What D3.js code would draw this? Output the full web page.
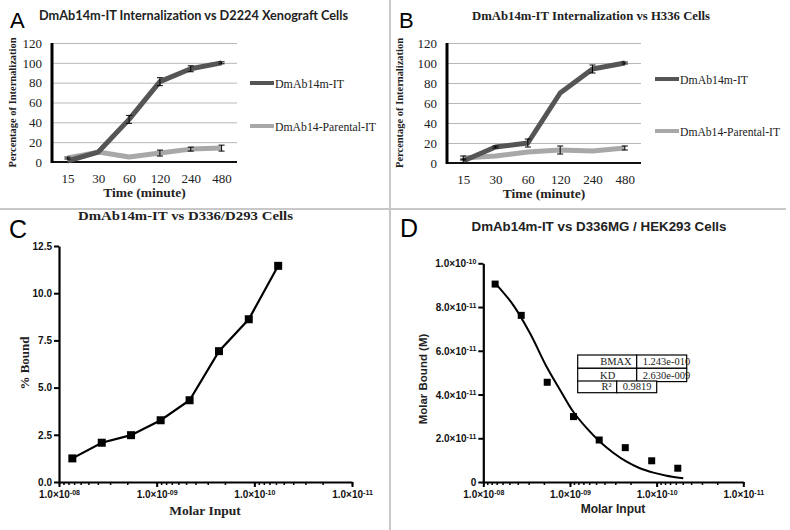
<!DOCTYPE html>
<html><head><meta charset="utf-8">
<script src="https://cdn.jsdelivr.net/npm/d3@7"></script>
<style>body{margin:0;background:#fff}svg{display:block}</style>
</head><body><svg id="c" width="790" height="530"></svg>
<script>
// ---------- DATA ----------
const timeLabels = ["15","30","60","120","240","480"];
const yTicksAB = [0,20,40,60,80,100,120];
// Panel A
const aDmAb14m = [1,10,43,81,94,100];
const aDmAb14mErr = [0,0,4,4,3,1];
const aParental = [4,10,5,9,13,14];
const aParentalErr = [1,0,0,3,2,3];
// Panel B
const bDmAb14m = [2,16,20,70,94,100];
const bDmAb14mErr = [2,1,4,0,4,1];
const bParental = [5,7,11,13,12,15];
const bParentalErr = [2,0,0,4,0,2];
const seriesNames = ["DmAb14m-IT","DmAb14-Parental-IT"];
// Panels C / D
const molarInput = [7.3e-9,3.65e-9,1.83e-9,9.1e-10,4.6e-10,2.3e-10,1.14e-10,5.7e-11];
const cPercentBound = [1.25,2.08,2.48,3.27,4.33,6.93,8.62,11.45];
const yTicksC = [0,2.5,5,7.5,10,12.5];
const dMolarBound = [9.05e-11,7.62e-11,4.56e-11,2.99e-11,1.92e-11,1.57e-11,0.97e-11,0.63e-11];
const dFitX = [7.14e-9,4.51e-9,2.89e-9,1.86e-9,1.30e-9,9.16e-10,6.41e-10,4.51e-10,3.17e-10,2.22e-10,1.56e-10,1.09e-10,7.67e-11,4.93e-11];
const dFitY = [9.05e-11,8.09e-11,6.80e-11,5.27e-11,4.21e-11,3.21e-11,2.46e-11,1.84e-11,1.34e-11,0.93e-11,0.63e-11,0.43e-11,0.29e-11,0.17e-11];
const yTicksD = [0,2e-11,4e-11,6e-11,8e-11,1e-10];
const yTicksDMant = ["0","2.0×10","4.0×10","6.0×10","8.0×10","1.0×10"];
const yTicksDExp = ["","-11","-11","-11","-11","-10"];
const decades = [1e-8,1e-9,1e-10,1e-11];
const decadeExp = ["-08","-09","-10","-11"];
const fitParams = [["BMAX","1.243e-010"],["KD","2.630e-009"],["R²","0.9819"]];

// ---------- DRAW ----------
const svg = d3.select("#c");
svg.append("rect").attr("width",790).attr("height",530).attr("fill","#fff");
const SERIF = "'Liberation Serif','Times New Roman',serif";
const SANS = "'Liberation Sans',Arial,sans-serif";
const DARK = "#555555", LIGHT = "#a8a8a8";

// separators
svg.append("line").attr("x1",390).attr("x2",390).attr("y1",0).attr("y2",530).attr("stroke","#c8c8c8").attr("stroke-width",2);
svg.append("line").attr("x1",0).attr("x2",786).attr("y1",209).attr("y2",209).attr("stroke","#c8c8c8").attr("stroke-width",2);

// panel letters
[["A",10,28,22],["B",399,28,22],["C",9,238,25],["D",400,237,25]].forEach(([t,x,y,s])=>{
  svg.append("text").attr("x",x).attr("y",y).attr("font-family",SANS).attr("font-size",s).text(t);
});

function linePanel(o){
  const g = svg.append("g");
  const x = d3.scalePoint().domain(timeLabels).range([o.x0,o.x1]).padding(0.5);
  const y = d3.scaleLinear().domain([0,120]).range([o.yb,o.yt]);
  const ya = g.append("g").attr("transform",`translate(${o.x0},0)`)
    .call(d3.axisLeft(y).tickValues(yTicksAB).tickSize(-(o.x1-o.x0)).tickPadding(10));
  ya.select(".domain").remove();
  ya.selectAll(".tick line").attr("stroke","#b8b8b8").attr("stroke-width",1);
  ya.selectAll(".tick text").attr("font-family",SERIF).attr("font-size",13).attr("fill","#222");
  const xa = g.append("g").attr("transform",`translate(0,${o.yb})`)
    .call(d3.axisBottom(x).tickSize(0).tickPadding(12));
  xa.select(".domain").attr("d",`M${o.x0},0H${o.x1}`).attr("stroke","#111").attr("stroke-width",2);
  xa.selectAll(".tick text").attr("font-family",SERIF).attr("font-size",13).attr("fill","#222");
  g.append("line").attr("x1",o.x0).attr("x2",o.x0).attr("y1",o.yt).attr("y2",o.yb+1).attr("stroke","#000").attr("stroke-width",3);
  const line = d3.line().x((d,i)=>x(timeLabels[i])).y(d=>y(d));
  [[o.s2,LIGHT],[o.s1,DARK]].forEach(([s,c])=>{
    g.append("path").attr("d",line(s)).attr("fill","none").attr("stroke",c).attr("stroke-width",5).attr("stroke-linejoin","round");
  });
  [[o.s1,o.e1],[o.s2,o.e2]].forEach(([s,e])=>{
    s.forEach((v,i)=>{
      if(!e[i]) return;
      const cx = x(timeLabels[i]);
      g.append("path").attr("d",`M${cx},${y(v-e[i])}V${y(v+e[i])}M${cx-3},${y(v-e[i])}H${cx+3}M${cx-3},${y(v+e[i])}H${cx+3}`)
        .attr("stroke","#000").attr("stroke-width",1).attr("fill","none");
    });
  });
  [[DARK,o.ly1,o.lw1],[LIGHT,o.ly2,o.lw2]].forEach(([c,ly,lw],i)=>{
    g.append("line").attr("x1",o.lx).attr("x2",o.lx+24).attr("y1",ly).attr("y2",ly).attr("stroke",c).attr("stroke-width",4);
    g.append("text").attr("x",o.lx+25).attr("y",ly+5).attr("font-family",SERIF).attr("font-size",12.5).attr("fill","#222")
      .attr("textLength",lw).attr("lengthAdjust","spacingAndGlyphs").text(seriesNames[i]);
  });
  g.append("text").attr("x",(o.x0+o.x1)/2).attr("y",o.yb+35).attr("text-anchor","middle").attr("font-family",SERIF).attr("font-weight","bold").attr("font-size",13.5).attr("fill","#222").text("Time (minute)");
  g.append("text").attr("transform",`translate(${o.ytx},${(o.yt+o.yb)/2}) rotate(-90)`).attr("text-anchor","middle").attr("font-family",SERIF).attr("font-weight","bold").attr("font-size",11).attr("textLength",130).attr("lengthAdjust","spacingAndGlyphs").attr("fill","#222").text("Percentage of Internalization");
  const t = g.append("text").attr("x",o.tx).attr("y",20).attr("font-weight","bold").attr("fill","#222")
    .attr("textLength",o.tw).attr("lengthAdjust","spacingAndGlyphs").text(o.title);
  if(o.titleSerif) t.attr("font-family",SERIF).attr("font-size",13); else t.attr("font-family","Lato,'Open Sans',sans-serif").attr("font-size",13);
}

linePanel({x0:52,x1:237,yb:162,yt:43,s1:aDmAb14m,e1:aDmAb14mErr,s2:aParental,e2:aParentalErr,
  lx:250,ly1:83,ly2:126,lw1:69,lw2:101,ytx:16,tx:39,tw:309,title:"DmAb14m-IT Internalization vs D2224 Xenograft Cells",titleSerif:false});
linePanel({x0:447,x1:641,yb:163,yt:43,s1:bDmAb14m,e1:bDmAb14mErr,s2:bParental,e2:bParentalErr,
  lx:655,ly1:79,ly2:131,lw1:68,lw2:100,ytx:403,tx:472,tw:238,title:"DmAb14m-IT Internalization vs H336 Cells",titleSerif:true});

function logXAxis(g,x,yb){
  const minor = g.append("g").attr("transform",`translate(0,${yb})`)
    .call(d3.axisBottom(x).tickValues(x.ticks()).tickSize(3).tickFormat(""));
  minor.select(".domain").remove();
  minor.selectAll(".tick line").attr("stroke","#000").attr("stroke-width",1.5);
  const major = g.append("g").attr("transform",`translate(0,${yb})`)
    .call(d3.axisBottom(x).tickValues(decades).tickSize(5).tickSizeOuter(0).tickFormat(""));
  major.select(".domain").attr("stroke","#000").attr("stroke-width",2.2);
  major.selectAll(".tick line").attr("stroke","#000").attr("stroke-width",2);
  major.selectAll(".tick").each(function(d,i){
    const t = d3.select(this).append("text").attr("y",16).attr("text-anchor","middle")
      .attr("font-family",SANS).attr("font-weight","bold").attr("font-size",10).attr("fill","#111");
    t.append("tspan").text("1.0×10");
    t.append("tspan").attr("dy",-3.5).attr("font-size",7).text(decadeExp[i]);
  });
}

// Panel C
(function(){
  const g = svg.append("g");
  const x = d3.scaleLog().domain([1e-8,1e-11]).range([59,352]);
  const y = d3.scaleLinear().domain([0,12.5]).range([482,246]);
  logXAxis(g,x,482);
  const ya = g.append("g").attr("transform","translate(59,0)")
    .call(d3.axisLeft(y).tickValues(yTicksC).tickSize(5).tickSizeOuter(0).tickPadding(2).tickFormat(d3.format(".1f")));
  ya.select(".domain").attr("stroke","#000").attr("stroke-width",2.2);
  ya.selectAll(".tick line").attr("stroke","#000").attr("stroke-width",2);
  ya.selectAll(".tick text").attr("font-family",SANS).attr("font-weight","bold").attr("font-size",10).attr("fill","#111");
  const line = d3.line().x((d,i)=>x(molarInput[i])).y(d=>y(d));
  g.append("path").attr("d",line(cPercentBound)).attr("fill","none").attr("stroke","#000").attr("stroke-width",2.2);
  g.selectAll(".pt").data(cPercentBound).join("rect")
    .attr("x",(d,i)=>x(molarInput[i])-4).attr("y",d=>y(d)-4).attr("width",8).attr("height",8).attr("fill","#000");
  g.append("text").attr("x",205).attr("y",515).attr("text-anchor","middle").attr("font-family",SERIF).attr("font-weight","bold").attr("font-size",13.5).attr("fill","#222").text("Molar Input");
  g.append("text").attr("transform","translate(29,363) rotate(-90)").attr("text-anchor","middle").attr("font-family",SERIF).attr("font-weight","bold").attr("font-size",13).attr("fill","#222").text("% Bound");
  g.append("text").attr("x",185.5).attr("y",220).attr("text-anchor","middle").attr("font-family",SERIF).attr("font-weight","bold").attr("font-size",11.5)
    .attr("textLength",215).attr("lengthAdjust","spacingAndGlyphs").attr("fill","#222").text("DmAb14m-IT vs D336/D293 Cells");
})();

// Panel D
(function(){
  const g = svg.append("g");
  const x = d3.scaleLog().domain([1e-8,1e-11]).range([483.3,743.3]);
  const y = d3.scaleLinear().domain([0,1e-10]).range([482,263.3]);
  logXAxis(g,x,482);
  const ya = g.append("g").attr("transform","translate(483.3,0)")
    .call(d3.axisLeft(y).tickValues(yTicksD).tickSize(5).tickSizeOuter(0).tickPadding(2).tickFormat(""));
  ya.select(".domain").attr("stroke","#000").attr("stroke-width",2.2);
  ya.selectAll(".tick line").attr("stroke","#000").attr("stroke-width",2);
  ya.selectAll(".tick").each(function(d,i){
    const t = d3.select(this).append("text").attr("x",-7).attr("y",3.5).attr("text-anchor","end")
      .attr("font-family",SANS).attr("font-weight","bold").attr("font-size",10).attr("fill","#111");
    t.append("tspan").text(yTicksDMant[i]);
    if(yTicksDExp[i]) t.append("tspan").attr("dy",-3.5).attr("font-size",7).text(yTicksDExp[i]);
  });
  const fit = d3.line().x((d,i)=>x(dFitX[i])).y(d=>y(d)).curve(d3.curveCatmullRom.alpha(0.5));
  g.append("path").attr("d",fit(dFitY)).attr("fill","none").attr("stroke","#000").attr("stroke-width",2);
  g.selectAll(".pt").data(dMolarBound).join("rect")
    .attr("x",(d,i)=>x(molarInput[i])-3.5).attr("y",d=>y(d)-3.5).attr("width",7).attr("height",7).attr("fill","#000");
  const tb = g.append("g").attr("font-family",SERIF).attr("font-size",10.5).attr("fill","#222");
  const rows = [[577.7,355,59,50],[577.7,368.3,59,50],[577.7,381,39,40]];
  rows.forEach(([x0,y0,w1,w2],i)=>{
    const h = i===2?11.7:13.3;
    tb.append("rect").attr("x",x0).attr("y",y0).attr("width",w1).attr("height",h).attr("fill","#fff").attr("stroke","#000").attr("stroke-width",1.2);
    tb.append("rect").attr("x",x0+w1).attr("y",y0).attr("width",w2).attr("height",h).attr("fill","#fff").attr("stroke","#000").attr("stroke-width",1.2);
    const lx = i===1?x0+30:x0+w1-5;
    tb.append("text").attr("x",lx).attr("y",y0+h-3).attr("text-anchor",i===1?"middle":"end").text(fitParams[i][0]);
    tb.append("text").attr("x",x0+w1+6).attr("y",y0+h-3).text(fitParams[i][1]);
  });
  g.append("text").attr("x",613).attr("y",513).attr("text-anchor","middle").attr("font-family",SANS).attr("font-weight","bold").attr("font-size",12).attr("fill","#222").text("Molar Input");
  g.append("text").attr("transform","translate(427,379) rotate(-90)").attr("text-anchor","middle").attr("font-family",SANS).attr("font-weight","bold").attr("font-size",11.5).attr("fill","#222").text("Molar Bound (M)");
  g.append("text").attr("x",599).attr("y",230.5).attr("text-anchor","middle").attr("font-family",SANS).attr("font-weight","bold").attr("font-size",12)
    .attr("textLength",255).attr("lengthAdjust","spacingAndGlyphs").attr("fill","#222").text("DmAb14m-IT vs D336MG / HEK293 Cells");
})();
</script></body></html>
